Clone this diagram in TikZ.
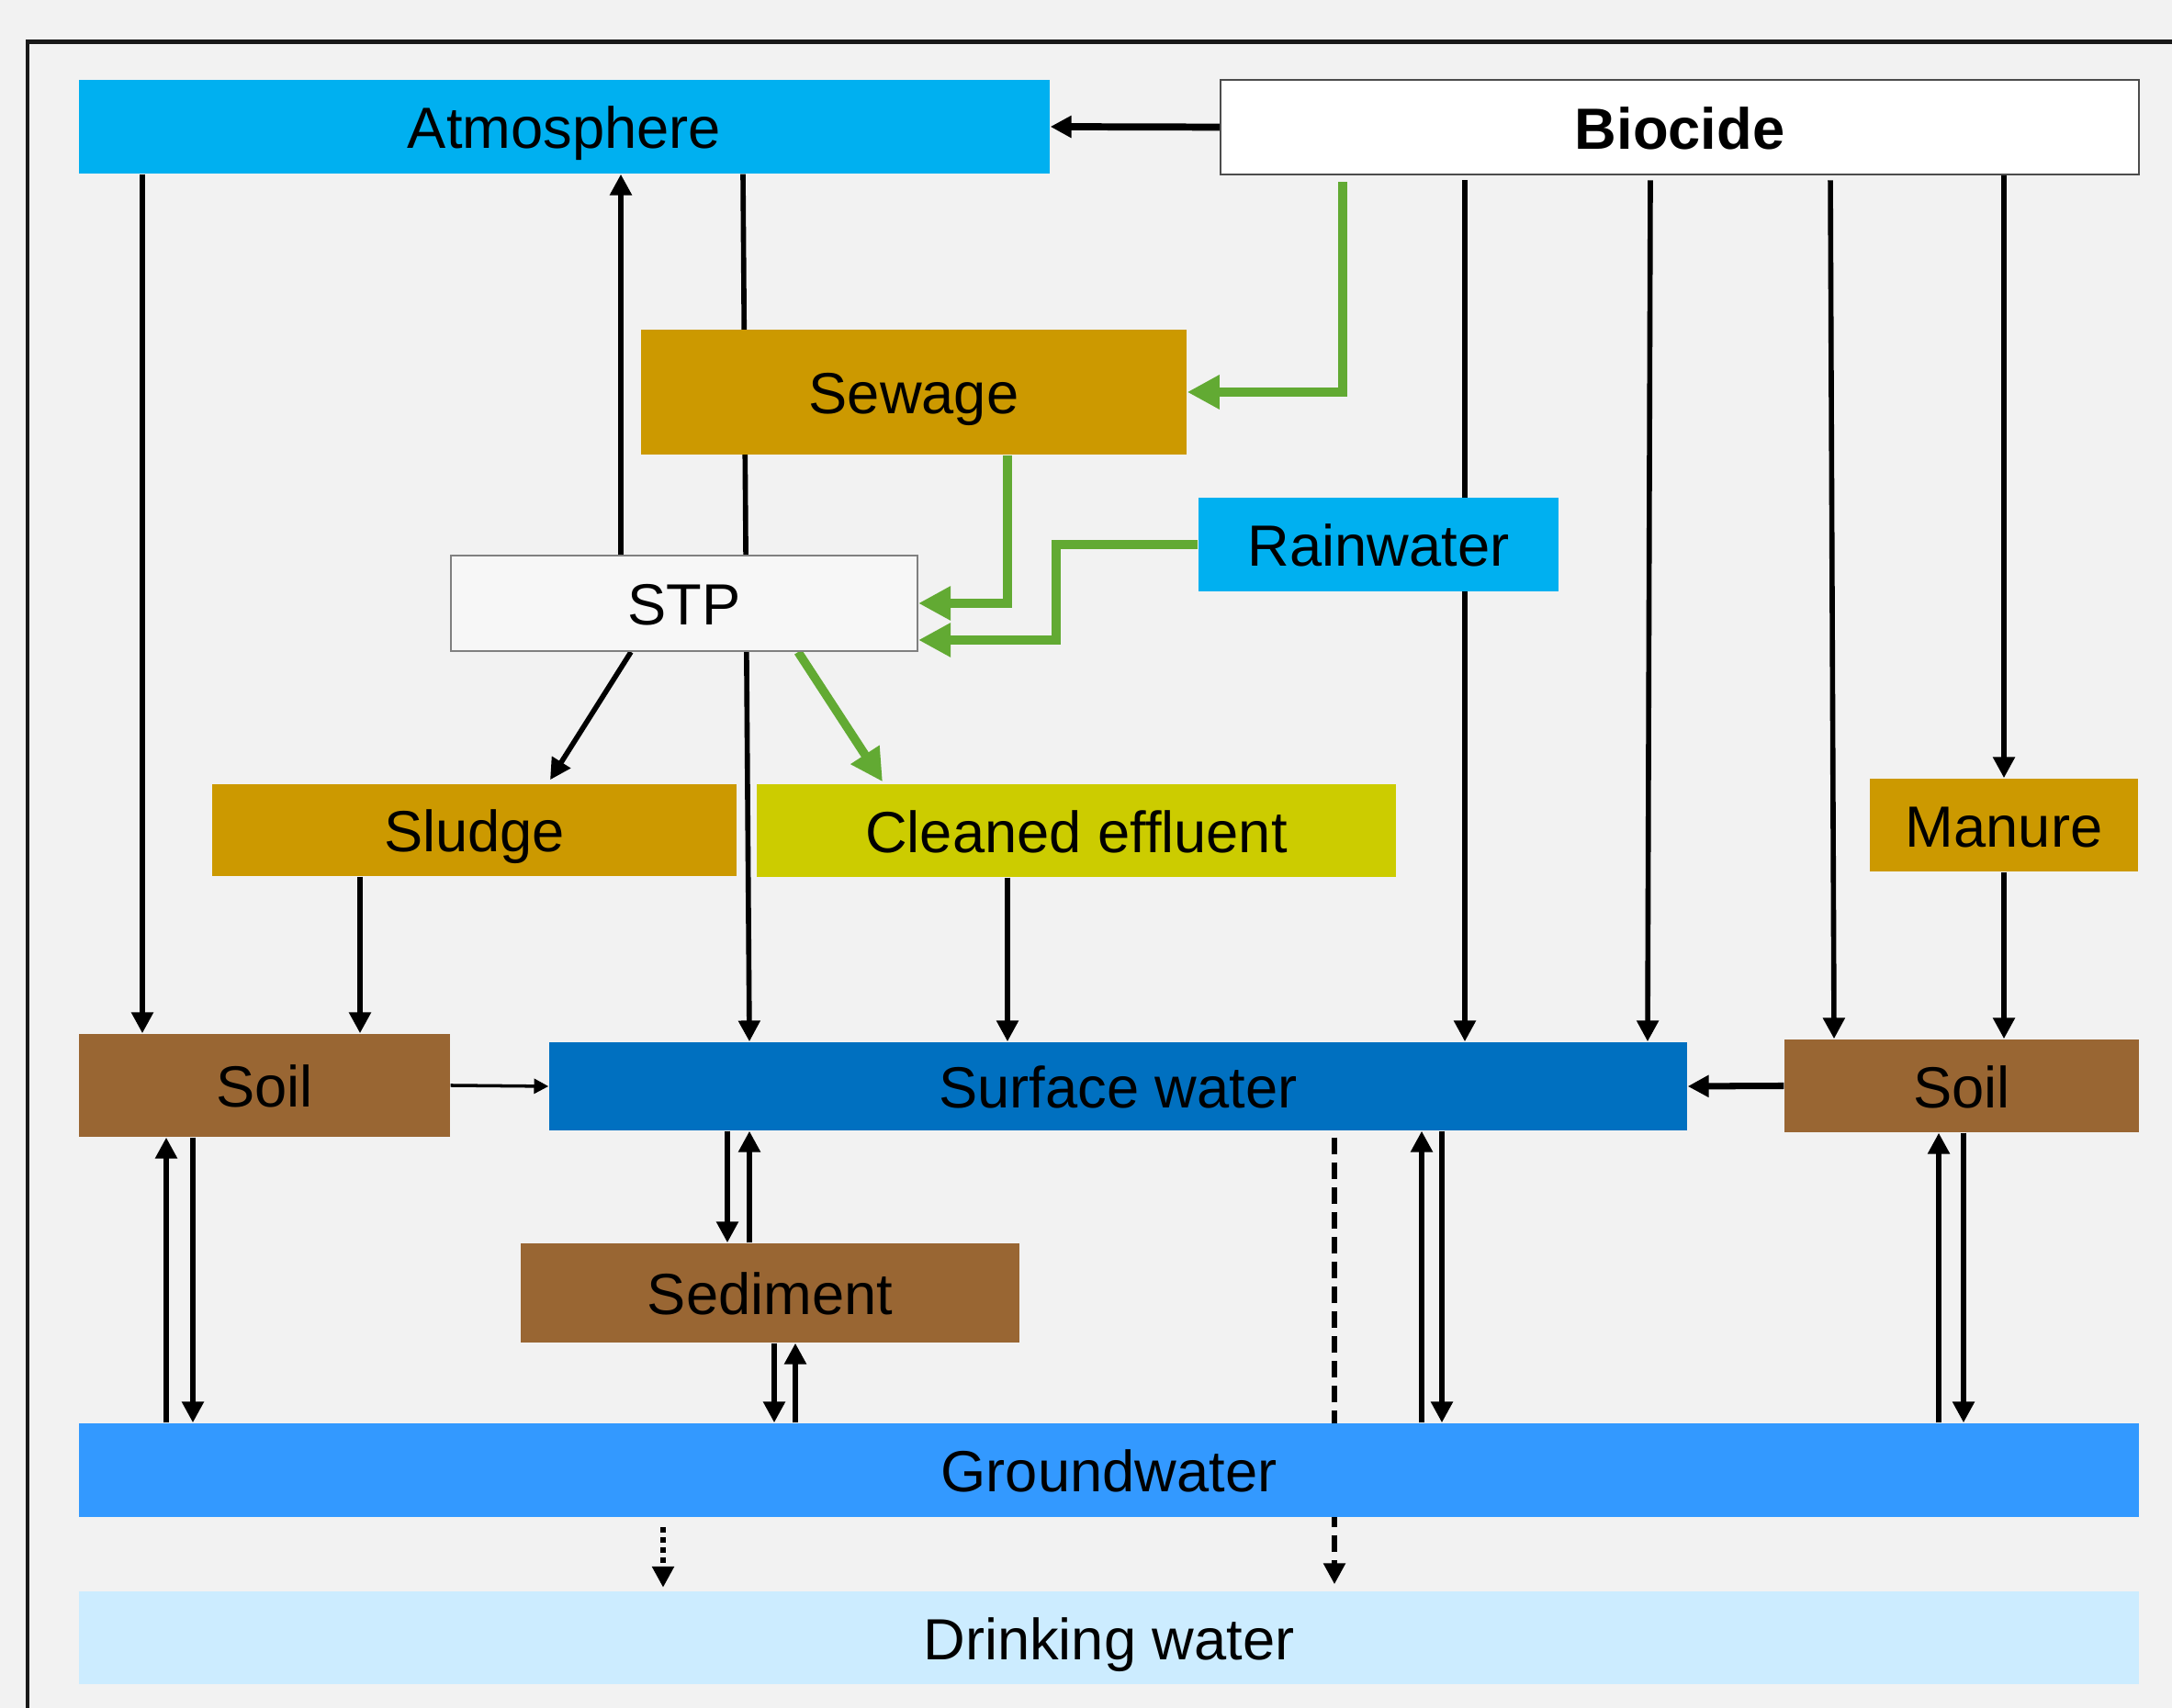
\documentclass[tikz,border=0pt]{standalone}
\usepackage{fontspec}
\setmainfont{Liberation Sans}
\usepackage{xcolor}
\usetikzlibrary{arrows.meta}
\definecolor{background}{RGB}{242,242,242}
\definecolor{aircolor}{RGB}{0,176,240}
\definecolor{sewagecolor}{RGB}{204,153,0}
\definecolor{effluentcolor}{RGB}{204,204,0}
\definecolor{soilcolor}{RGB}{153,102,51}
\definecolor{surfacecolor}{RGB}{0,112,192}
\definecolor{groundcolor}{RGB}{51,153,255}
\definecolor{drinkcolor}{RGB}{204,236,255}
\definecolor{stpcolor}{RGB}{247,247,247}
\definecolor{flowgreen}{RGB}{98,170,51}

\pgfdeclarelayer{back}
\pgfdeclarelayer{links}
\pgfsetlayers{back,links,main}

\tikzset{
  box/.style={rectangle, inner sep=0pt, text height=13.4pt, text depth=0pt,
    font=\fontsize{18}{22}\selectfont},
  flow/.style={->, >={Triangle[length=6.5pt,width=6.5pt]}, line width=1.6pt, black},
  greenflow/.style={->, >={Triangle[length=10pt,width=10pt]}, line width=2.7pt, flowgreen},
}

\begin{document}
\begin{tikzpicture}
  % Set background color
  \begin{pgfonlayer}{back}
    \fill[background] (0,0) rectangle (23.65,18.6);
  \end{pgfonlayer}
  \useasboundingbox (0,0) rectangle (23.65,18.6);

  % Frame
  \draw[line width=1.4pt, black!90] (0.30,0) -- (0.30,18.145) -- (23.65,18.145);

  % Top row
  \node[box, fill=aircolor, minimum width=10.57cm, minimum height=1.02cm] (atm) at (6.145,17.22) {Atmosphere};
  \node[box, draw=black!70, line width=0.6pt, fill=white, minimum width=10.0cm, minimum height=1.03cm,
    font=\fontsize{18}{22}\selectfont\bfseries] (bio) at (18.29,17.215) {Biocide};

  % Treatment
  \node[box, fill=sewagecolor, minimum width=5.94cm, minimum height=1.36cm] (sewage) at (9.95,14.33) {Sewage};
  \node[box, fill=aircolor, minimum width=3.92cm, minimum height=1.02cm] (rain) at (15.01,12.67) {Rainwater};
  \node[box, draw=black!50, line width=0.6pt, fill=stpcolor, minimum width=5.08cm, minimum height=1.04cm] (stp) at (7.45,12.03) {STP};
  \node[box, fill=sewagecolor, minimum width=5.71cm, minimum height=1.0cm] (sludge) at (5.165,9.56) {Sludge};
  \node[box, fill=effluentcolor, minimum width=6.96cm, minimum height=1.01cm] (effl) at (11.72,9.555) {Cleaned effluent};
  \node[box, fill=sewagecolor, minimum width=2.92cm, minimum height=1.01cm] (manure) at (21.82,9.615) {Manure};

  % Compartments
  \node[box, fill=soilcolor, minimum width=4.04cm, minimum height=1.12cm] (soilL) at (2.88,6.78) {Soil};
  \node[box, fill=surfacecolor, minimum width=12.39cm, minimum height=0.96cm] (surface) at (12.175,6.77) {Surface water};
  \node[box, fill=soilcolor, minimum width=3.86cm, minimum height=1.01cm] (soilR) at (21.36,6.775) {Soil};
  \node[box, fill=soilcolor, minimum width=5.43cm, minimum height=1.08cm] (sediment) at (8.385,4.52) {Sediment};
  \node[box, fill=groundcolor, minimum width=22.43cm, minimum height=1.02cm] (ground) at (12.075,2.59) {Groundwater};
  \node[box, fill=drinkcolor, minimum width=22.43cm, minimum height=1.01cm] (drink) at (12.075,0.765) {Drinking water};

  % Columns of the vertical flows
  \coordinate (cAir) at (1.55,0);
  \coordinate (cSoilUp) at (1.81,0);
  \coordinate (cSoilDn) at (2.10,0);
  \coordinate (cSludge) at (3.92,0);
  \coordinate (cVent) at (6.76,0);
  \coordinate (cDrop) at (7.22,0);
  \coordinate (cSedDn) at (7.92,0);
  \coordinate (cWashT) at (8.09,0);
  \coordinate (cWashB) at (8.16,0);
  \coordinate (cSedUp) at (8.16,0);
  \coordinate (cGwDn) at (8.43,0);
  \coordinate (cGwUp) at (8.66,0);
  \coordinate (cEffl) at (10.97,0);
  \coordinate (cRain) at (11.50,0);
  \coordinate (cInfil) at (14.53,0);
  \coordinate (cBioGreen) at (14.62,0);
  \coordinate (cSwUp) at (15.48,0);
  \coordinate (cSwDn) at (15.70,0);
  \coordinate (cBioA) at (15.95,0);
  \coordinate (cBioBT) at (17.97,0);
  \coordinate (cBioBB) at (17.94,0);
  \coordinate (cBioCT) at (19.93,0);
  \coordinate (cBioCB) at (19.97,0);
  \coordinate (cRsUp) at (21.11,0);
  \coordinate (cRsDn) at (21.38,0);
  \coordinate (cManure) at (21.82,0);
  \coordinate (stpin) at ([yshift=-0.4cm]stp.east);

  \begin{pgfonlayer}{links}
    % From the biocide
    \draw[flow, line width=2.2pt] (bio.west) -- (atm.east);
    \draw[flow, shorten <=1.5pt] (bio.south -| cBioA) -- (surface.north -| cBioA);
    \draw[flow, shorten <=1.5pt] (bio.south -| cBioBT) -- (surface.north -| cBioBB);
    \draw[flow, shorten <=1.5pt] (bio.south -| cBioCT) -- (soilR.north -| cBioCB);
    \draw[flow] (bio.south -| cManure) -- (manure.north);
    \draw[flow] (manure.south) -- (soilR.north -| cManure);

    % Atmosphere
    \draw[flow] (atm.south -| cAir) -- (soilL.north -| cAir);
    \draw[flow] (stp.north -| cVent) -- (atm.south -| cVent);
    \draw[flow] (atm.south -| cWashT) -- (surface.north -| cWashB);

    % Treatment plant
    \draw[greenflow, shorten <=2pt] (bio.south -| cBioGreen) |- (sewage.east);
    \draw[greenflow] (sewage.south -| cEffl) |- (stp.east);
    \draw[greenflow] (rain.west) -| (stpin -| cRain) -- (stpin);
    \draw[flow] ([xshift=-0.58cm]stp.south) -- ([xshift=0.825cm,yshift=0.04cm]sludge.north);
    \draw[greenflow] ([xshift=1.24cm]stp.south) -- ([xshift=-2.11cm,yshift=0.02cm]effl.north);
    \draw[flow] (sludge.south -| cSludge) -- (soilL.north -| cSludge);
    \draw[flow] (effl.south -| cEffl) -- (surface.north -| cEffl);

    % Runoff
    \draw[flow, line width=1pt, >={Triangle[length=4.5pt,width=4.5pt]}] (soilL.east) -- (surface.west);
    \draw[flow, line width=2pt] (soilR.west) -- (surface.east);

    % Exchange with groundwater
    \draw[flow] (ground.north -| cSoilUp) -- (soilL.south -| cSoilUp);
    \draw[flow] (soilL.south -| cSoilDn) -- (ground.north -| cSoilDn);
    \draw[flow] (surface.south -| cSedDn) -- (sediment.north -| cSedDn);
    \draw[flow] (sediment.north -| cSedUp) -- (surface.south -| cSedUp);
    \draw[flow] (sediment.south -| cGwDn) -- (ground.north -| cGwDn);
    \draw[flow] (ground.north -| cGwUp) -- (sediment.south -| cGwUp);
    \draw[flow] (ground.north -| cSwUp) -- (surface.south -| cSwUp);
    \draw[flow] (surface.south -| cSwDn) -- (ground.north -| cSwDn);
    \draw[flow] (ground.north -| cRsUp) -- (soilR.south -| cRsUp);
    \draw[flow] (soilR.south -| cRsDn) -- (ground.north -| cRsDn);

    % To drinking water
    \draw[flow, dash pattern=on 5.1pt off 2.6pt, shorten <=2pt, shorten >=2pt] (surface.south -| cInfil) -- (drink.north -| cInfil);
    \draw[flow, dash pattern=on 1.7pt off 1.4pt, shorten <=3pt, shorten >=1pt] (ground.south -| cDrop) -- (drink.north -| cDrop);
  \end{pgfonlayer}
\end{tikzpicture}
\end{document}
